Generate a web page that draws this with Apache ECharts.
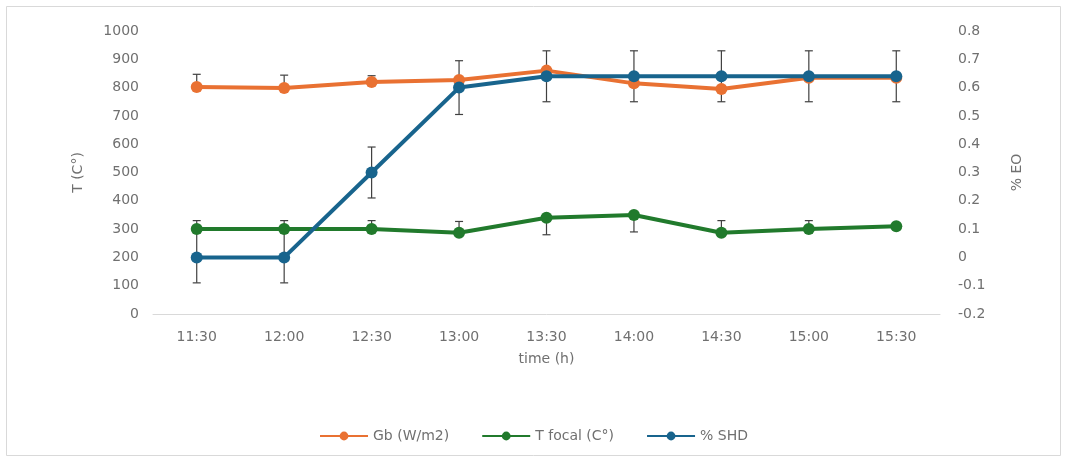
<!DOCTYPE html>
<html>
<head>
<meta charset="utf-8">
<script src="https://cdn.jsdelivr.net/npm/echarts@6/dist/echarts.min.js"></script>
<style>
html,body{margin:0;padding:0;background:#fff;}
#chart{width:1067px;height:459px;}
</style>
</head>
<body>
<div id="chart"></div>
<script>
// ---- data ----
const categories = ['11:30','12:00','12:30','13:00','13:30','14:00','14:30','15:00','15:30'];
const leftTicks = [0,100,200,300,400,500,600,700,800,900,1000];
const rightTicks = [-0.2,-0.1,0,0.1,0.2,0.3,0.4,0.5,0.6,0.7,0.8];

const gb = [802, 799, 820, 827, 860, 815, 795, 835, 835];
const gbErrPlus  = [45, 45, 22, 0, 0, 0, 0, 0, 0];
const gbErrMinus = [0, 0, 0, 0, 0, 0, 0, 0, 0];

const tFocal = [300, 300, 300, 287, 340, 350, 287, 300, 310];
const tFocalErrPlus  = [30, 30, 30, 40, 0, 0, 43, 30, 0];
const tFocalErrMinus = [0, 0, 0, 0, 60, 60, 0, 0, 0];

const shd = [0, 0, 0.3, 0.6, 0.64, 0.64, 0.64, 0.64, 0.64];
const shdErrPlus  = [0.09, 0.09, 0.09, 0.095, 0.09, 0.09, 0.09, 0.09, 0.09];
const shdErrMinus = [0.09, 0.09, 0.09, 0.095, 0.09, 0.09, 0.09, 0.09, 0.09];

const seriesNames = ['Gb (W/m2)', 'T focal (C°)', '% SHD'];
const colors = ['#E97132', '#217A2C', '#18648D'];

// ---- build ----
function errData(vals, plus, minus) {
  return vals.map((v, i) => [i, v, v - minus[i], v + plus[i], plus[i], minus[i]]);
}
function errRender(params, api) {
  const idx = api.value(0);
  const lo = api.value(2);
  const hi = api.value(3);
  const plus = api.value(4);
  const minus = api.value(5);
  const pHi = api.coord([idx, hi]);
  const pLo = api.coord([idx, lo]);
  const w = 4;
  const style = {stroke: '#404040', lineWidth: 1.2};
  const children = [{
    type: 'line', shape: {x1: pHi[0], y1: pHi[1], x2: pLo[0], y2: pLo[1]}, style: style
  }];
  if (plus > 0) children.push({type: 'line', shape: {x1: pHi[0]-w, y1: pHi[1], x2: pHi[0]+w, y2: pHi[1]}, style: style});
  if (minus > 0) children.push({type: 'line', shape: {x1: pLo[0]-w, y1: pLo[1], x2: pLo[0]+w, y2: pLo[1]}, style: style});
  return {type: 'group', children: children};
}

const labelColor = '#707070';
const fontFamily = '"DejaVu Sans", "Liberation Sans", sans-serif';
const fs = 14;

const chart = echarts.init(document.getElementById('chart'), null, {renderer: 'canvas'});
const option = {
  backgroundColor: '#ffffff',
  animation: false,
  textStyle: {fontFamily: fontFamily},
  graphic: [{
    type: 'rect',
    shape: {x: 6.5, y: 6.5, width: 1054, height: 449},
    style: {fill: 'none', stroke: '#d9d9d9', lineWidth: 1},
    silent: true, z: -10
  }],
  grid: {left: 153, right: 127, top: 31, bottom: 145, containLabel: false},
  legend: {
    bottom: 11,
    left: 'center',
    itemWidth: 48,
    itemHeight: 11,
    itemGap: 32,
    textStyle: {color: labelColor, fontSize: fs, fontFamily: fontFamily},
    data: seriesNames
  },
  xAxis: {
    type: 'category',
    data: categories,
    boundaryGap: true,
    name: 'time (h)',
    nameLocation: 'middle',
    nameGap: 38,
    nameTextStyle: {color: labelColor, fontSize: fs, fontFamily: fontFamily},
    axisLine: {lineStyle: {color: '#d9d9d9', width: 1}},
    axisTick: {show: false},
    axisLabel: {color: labelColor, fontSize: fs, margin: 16, fontFamily: fontFamily}
  },
  yAxis: [{
    type: 'value',
    min: leftTicks[0], max: leftTicks[leftTicks.length-1], interval: 100,
    name: 'T (C°)',
    nameLocation: 'middle',
    nameRotate: 90,
    nameGap: 68,
    nameTextStyle: {color: labelColor, fontSize: fs, fontFamily: fontFamily},
    axisLine: {show: false},
    axisTick: {show: false},
    splitLine: {show: false},
    axisLabel: {color: labelColor, fontSize: fs, margin: 14, fontFamily: fontFamily,
      formatter: v => String(v)}
  }, {
    type: 'value',
    min: rightTicks[0], max: rightTicks[rightTicks.length-1], interval: 0.1,
    name: '% EO',
    nameLocation: 'middle',
    nameRotate: 90,
    nameGap: 70,
    nameTextStyle: {color: labelColor, fontSize: fs, fontFamily: fontFamily},
    axisLine: {show: false},
    axisTick: {show: false},
    splitLine: {show: false},
    axisLabel: {
      color: labelColor, fontSize: fs, margin: 18, fontFamily: fontFamily,
      formatter: v => String(Math.round(v * 10) / 10)
    }
  }],
  series: [
    {
      type: 'custom', name: 'gbErr', yAxisIndex: 0, z: 1,
      renderItem: errRender, data: errData(gb, gbErrPlus, gbErrMinus),
      encode: {x: 0, y: [1, 2, 3]}, silent: true
    },
    {
      type: 'custom', name: 'tErr', yAxisIndex: 0, z: 1,
      renderItem: errRender, data: errData(tFocal, tFocalErrPlus, tFocalErrMinus),
      encode: {x: 0, y: [1, 2, 3]}, silent: true
    },
    {
      type: 'custom', name: 'shdErr', yAxisIndex: 1, z: 1,
      renderItem: errRender, data: errData(shd, shdErrPlus, shdErrMinus),
      encode: {x: 0, y: [1, 2, 3]}, silent: true
    },
    {
      type: 'line', name: seriesNames[0], yAxisIndex: 0, data: gb, z: 3,
      color: colors[0], symbol: 'circle', symbolSize: 12,
      lineStyle: {width: 4, color: colors[0]}, itemStyle: {color: colors[0]}
    },
    {
      type: 'line', name: seriesNames[1], yAxisIndex: 0, data: tFocal, z: 4,
      color: colors[1], symbol: 'circle', symbolSize: 12,
      lineStyle: {width: 4, color: colors[1]}, itemStyle: {color: colors[1]}
    },
    {
      type: 'line', name: seriesNames[2], yAxisIndex: 1, data: shd, z: 5,
      color: colors[2], symbol: 'circle', symbolSize: 12,
      lineStyle: {width: 4, color: colors[2]}, itemStyle: {color: colors[2]}
    }
  ]
};
chart.setOption(option);
</script>
</body>
</html>
